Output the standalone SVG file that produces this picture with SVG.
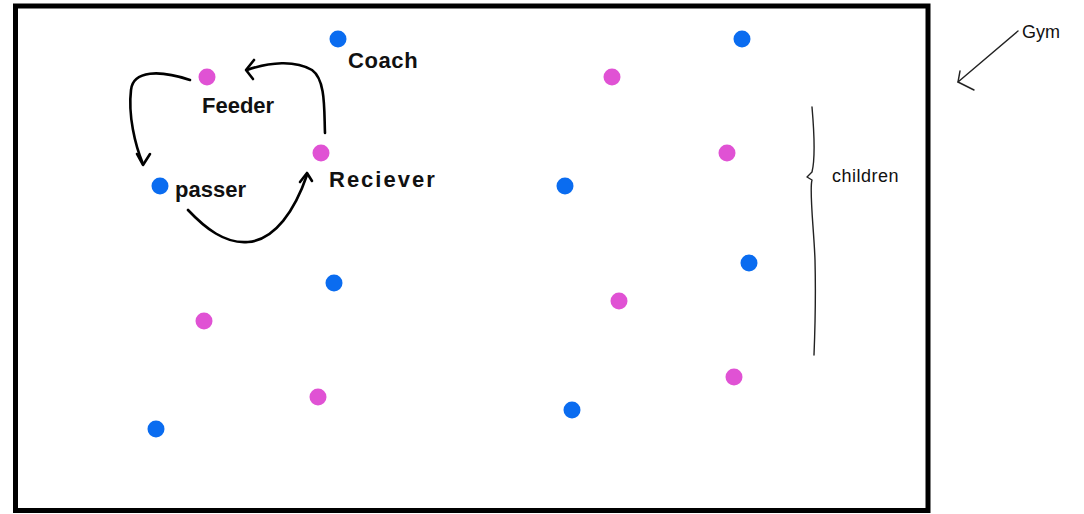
<svg xmlns="http://www.w3.org/2000/svg" width="1084" height="514" viewBox="0 0 1084 514">
<style>
.blue{fill:#0a6cf0}
.pink{fill:#e052d4}
.lbl{font-family:"Liberation Sans",Arial,sans-serif;font-size:22px;font-weight:bold;fill:#111}
.thin{font-family:"Liberation Sans",Arial,sans-serif;font-size:18px;fill:#111}
.arr{fill:none;stroke:#000;stroke-width:2.6;stroke-linecap:round;stroke-linejoin:round}
.th{fill:none;stroke:#222;stroke-width:1.4;stroke-linecap:round;stroke-linejoin:round}
</style>
<rect width="1084" height="514" fill="#fff"/>
<rect id="gym" x="15.5" y="6" width="912.5" height="504.5" fill="none" stroke="#000" stroke-width="5"/>
<g id="connectors">
<path class="arr" d="M190,80 C160,70 133,70 131,90 C128,115 135,145 143,164"/>
<path class="arr" d="M137,154 L143,165 L150,154"/>
<path class="arr" d="M188,210 C205,228 225,244 248,242 C275,240 295,210 307,175"/>
<path class="arr" d="M300,182 L307,173 L312,181"/>
<path class="arr" d="M325,133 C324,110 326,80 312,70 C295,60 270,62 247,70"/>
<path class="arr" d="M254,60 L246,70 L253,79"/>
<path class="th" d="M1018,31 L958,82"/>
<path class="th" d="M960,71 L958,82 L974,90"/>
<path class="th" d="M812,107 C814,130 815,160 812,172 L807,177 L812,180 C809,190 814,230 815,260 C816,300 815,330 814,355"/>
</g>
<g id="n-coach"><circle class="blue" cx="338" cy="39" r="8.5"/><text class="lbl" x="348" y="68" letter-spacing="0.6">Coach</text></g>
<g id="n-feeder"><circle class="pink" cx="207" cy="77" r="8.5"/><text class="lbl" x="202" y="113">Feeder</text></g>
<g id="n-passer"><circle class="blue" cx="160" cy="186" r="8.5"/><text class="lbl" x="175" y="197">passer</text></g>
<g id="n-reciever"><circle class="pink" cx="321" cy="153" r="8.5"/><text class="lbl" x="329" y="187" letter-spacing="2">Reciever</text></g>
<g id="n-b1"><circle class="blue" cx="742" cy="39" r="8.5"/></g>
<g id="n-b2"><circle class="blue" cx="565" cy="186" r="8.5"/></g>
<g id="n-b3"><circle class="blue" cx="334" cy="283" r="8.5"/></g>
<g id="n-b4"><circle class="blue" cx="749" cy="263" r="8.5"/></g>
<g id="n-b5"><circle class="blue" cx="156" cy="429" r="8.5"/></g>
<g id="n-b6"><circle class="blue" cx="572" cy="410" r="8.5"/></g>
<g id="n-p1"><circle class="pink" cx="612" cy="77" r="8.5"/></g>
<g id="n-p2"><circle class="pink" cx="727" cy="153" r="8.5"/></g>
<g id="n-p3"><circle class="pink" cx="204" cy="321" r="8.5"/></g>
<g id="n-p4"><circle class="pink" cx="619" cy="301" r="8.5"/></g>
<g id="n-p5"><circle class="pink" cx="318" cy="397" r="8.5"/></g>
<g id="n-p6"><circle class="pink" cx="734" cy="377" r="8.5"/></g>
<g id="n-children"><text class="thin" x="832" y="182" letter-spacing="0.5">children</text></g>
<g id="n-gymlabel"><text class="thin" x="1022" y="38" font-size="19">Gym</text></g>
</svg>
